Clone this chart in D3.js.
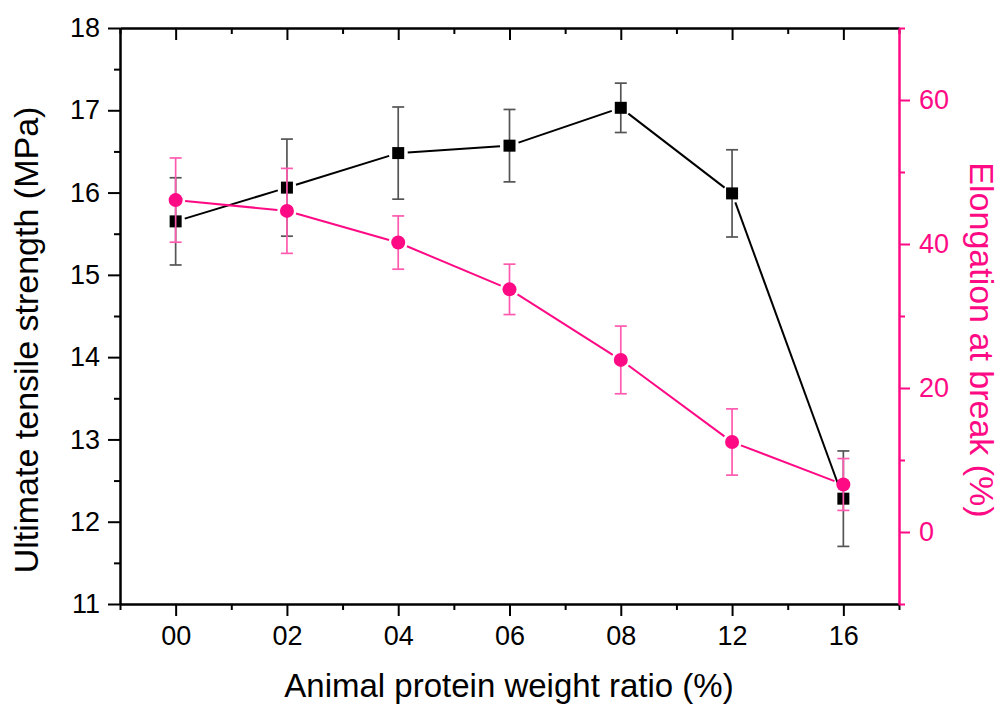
<!DOCTYPE html>
<html>
<head>
<meta charset="utf-8">
<script src="https://cdn.jsdelivr.net/npm/d3@7"></script>
<style>
  html, body { margin: 0; padding: 0; background: #fff; }
  svg { display: block; font-family: "Liberation Sans", Arial, sans-serif; }
</style>
</head>
<body>
<svg id="chart" width="1001" height="706"></svg>
<script>
// ---- data ----
const categories = ["00", "02", "04", "06", "08", "12", "16"];
const strength = [15.65, 16.06, 16.48, 16.57, 17.03, 15.99, 12.28];
const strengthErr = [0.53, 0.59, 0.56, 0.44, 0.30, 0.53, 0.58];
const elongation = [46.1, 44.6, 40.2, 33.7, 23.9, 12.5, 6.6];
const elongationErr = [5.85, 5.9, 3.7, 3.5, 4.7, 4.6, 3.6];
const leftTicks = [11, 12, 13, 14, 15, 16, 17, 18];
const rightTicks = [0, 20, 40, 60];

const PINK = "#ff0a85";
const svg = d3.select("#chart");
const L = 120, R = 899, T = 28, B = 604;

const x = d3.scaleLinear().domain([-0.5, categories.length - 0.5]).range([L, R]);
const yL = d3.scaleLinear().domain([11, 18]).range([B, T]);
const yR = d3.scaleLinear().domain([-10, 70]).range([B, T]);

const majorIdx = d3.range(categories.length);
const minorIdx = d3.range(-0.5, categories.length, 1);

function styleAxis(g, color) {
  g.selectAll(".domain").attr("stroke", color).attr("stroke-width", 2);
  g.selectAll(".tick line").attr("stroke", color).attr("stroke-width", 2);
  g.selectAll(".tick text").attr("fill", color).attr("font-size", 27)
    .attr("font-family", '"Liberation Sans", Arial, sans-serif');
}

// bottom axis: major + minor
svg.append("g").attr("transform", `translate(0,${B})`)
  .call(d3.axisBottom(x).tickValues(minorIdx).tickFormat("").tickSize(6).tickSizeOuter(0))
  .call(g => styleAxis(g, "#000"));
svg.append("g").attr("transform", `translate(0,${B})`)
  .call(d3.axisBottom(x).tickValues(majorIdx).tickFormat(i => categories[i]).tickSize(12).tickPadding(10).tickSizeOuter(0))
  .call(g => styleAxis(g, "#000"));

// top axis: inward ticks
svg.append("g").attr("transform", `translate(0,${T})`)
  .call(d3.axisBottom(x).tickValues(minorIdx).tickFormat("").tickSize(6).tickSizeOuter(0))
  .call(g => styleAxis(g, "#000"));
svg.append("g").attr("transform", `translate(0,${T})`)
  .call(d3.axisBottom(x).tickValues(majorIdx).tickFormat("").tickSize(12).tickSizeOuter(0))
  .call(g => styleAxis(g, "#000"));

// left axis
svg.append("g").attr("transform", `translate(${L},0)`)
  .call(d3.axisLeft(yL).tickValues(d3.range(11.5, 18, 1)).tickFormat("").tickSize(6).tickSizeOuter(0))
  .call(g => styleAxis(g, "#000"));
svg.append("g").attr("transform", `translate(${L},0)`)
  .call(d3.axisLeft(yL).tickValues(leftTicks).tickFormat(d3.format("d")).tickSize(12).tickPadding(8).tickSizeOuter(0))
  .call(g => styleAxis(g, "#000"));

// right axis
svg.append("g").attr("transform", `translate(${R},0)`)
  .call(d3.axisRight(yR).tickValues([-10, 10, 30, 50, 70]).tickFormat("").tickSize(6).tickSizeOuter(0))
  .call(g => styleAxis(g, PINK));
svg.append("g").attr("transform", `translate(${R},0)`)
  .call(d3.axisRight(yR).tickValues(rightTicks).tickFormat(d3.format("d")).tickSize(11).tickPadding(9).tickSizeOuter(0))
  .call(g => styleAxis(g, PINK));

// axis titles
svg.append("text").attr("x", 509).attr("y", 697).attr("text-anchor", "middle")
  .attr("font-size", 33).attr("fill", "#000").text("Animal protein weight ratio (%)");
svg.append("text").attr("transform", "translate(38,340) rotate(-90)").attr("text-anchor", "middle")
  .attr("font-size", 34).attr("fill", "#000").text("Ultimate tensile strength (MPa)");
svg.append("text").attr("transform", "translate(970,340) rotate(90)").attr("text-anchor", "middle")
  .attr("font-size", 34).attr("fill", PINK).text("Elongation at break (%)");

// series drawing
function drawSeries(vals, errs, y, lineColor, errColor, lineWidth, marker) {
  const pts = vals.map((v, i) => [x(i), y(v)]);
  const g = svg.append("g");
  // error bars
  const cap = 6;
  vals.forEach((v, i) => {
    const cx = x(i), y1 = y(v + errs[i]), y2 = y(v - errs[i]);
    g.append("line").attr("x1", cx).attr("x2", cx).attr("y1", y1).attr("y2", y2)
      .attr("stroke", errColor).attr("stroke-width", 1.7);
    [y1, y2].forEach(yy => g.append("line").attr("x1", cx - cap).attr("x2", cx + cap)
      .attr("y1", yy).attr("y2", yy).attr("stroke", errColor).attr("stroke-width", 1.7));
  });
  // connecting line segments with small gap at markers
  const gap = 9.5;
  const line = d3.line();
  for (let i = 0; i < pts.length - 1; i++) {
    const [ax, ay] = pts[i], [bx, by] = pts[i + 1];
    const len = Math.hypot(bx - ax, by - ay);
    const ux = (bx - ax) / len, uy = (by - ay) / len;
    g.append("path")
      .attr("d", line([[ax + ux * gap, ay + uy * gap], [bx - ux * gap, by - uy * gap]]))
      .attr("stroke", lineColor).attr("stroke-width", lineWidth).attr("fill", "none");
  }
  // markers
  if (marker === "square") {
    g.selectAll("rect.m").data(pts).join("rect").attr("class", "m")
      .attr("x", d => d[0] - 6).attr("y", d => d[1] - 6)
      .attr("width", 12).attr("height", 12).attr("fill", lineColor);
  } else {
    g.selectAll("circle.m").data(pts).join("circle").attr("class", "m")
      .attr("cx", d => d[0]).attr("cy", d => d[1]).attr("r", 7).attr("fill", lineColor);
  }
}

drawSeries(strength, strengthErr, yL, "#000", "#555", 2, "square");
drawSeries(elongation, elongationErr, yR, PINK, "#ff5aae", 2, "circle");
</script>
</body>
</html>
